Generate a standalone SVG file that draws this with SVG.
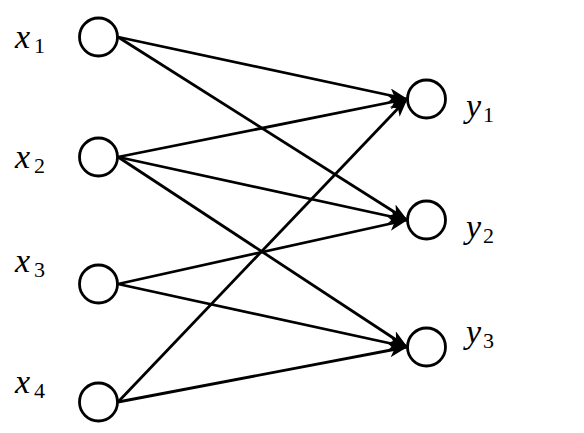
<svg xmlns="http://www.w3.org/2000/svg" width="584" height="433" viewBox="0 0 584 433">
<style>
.n{fill:#fff;stroke:#000;stroke-width:2.8}
.e{stroke:#000;stroke-width:2.8;fill:none;marker-end:url(#ah)}
.l{font-style:italic;font-size:34px}
.s{font-size:22px}
</style>
<defs>
<marker id="ah" viewBox="0 0 19 14" refX="18" refY="7" markerWidth="19" markerHeight="14" markerUnits="userSpaceOnUse" orient="auto">
<path d="M0,0 L19,7 L0,14 L5,7 z" fill="#000"/>
</marker>
</defs>
<rect width="584" height="433" fill="#fff"/>
<g id="edges">
<line class="e" x1="118" y1="37" x2="407" y2="99"/>
<line class="e" x1="118" y1="37" x2="407" y2="220"/>
<line class="e" x1="118" y1="157" x2="407" y2="99"/>
<line class="e" x1="118" y1="157" x2="407" y2="220"/>
<line class="e" x1="118" y1="157" x2="407" y2="347"/>
<line class="e" x1="118" y1="284" x2="407" y2="220"/>
<line class="e" x1="118" y1="284" x2="407" y2="347"/>
<line class="e" x1="118" y1="402" x2="407" y2="99"/>
<line class="e" x1="118" y1="402" x2="407" y2="347"/>
</g>
<g font-family="Liberation Serif, serif" fill="#000">
<g id="x1"><circle class="n" cx="98.5" cy="37" r="19"/><text class="l" x="15" y="48">x</text><text class="s" x="34" y="53">1</text></g>
<g id="x2"><circle class="n" cx="98.5" cy="157" r="19"/><text class="l" x="15" y="168">x</text><text class="s" x="34" y="173">2</text></g>
<g id="x3"><circle class="n" cx="98.5" cy="284" r="19"/><text class="l" x="15" y="272">x</text><text class="s" x="34" y="277">3</text></g>
<g id="x4"><circle class="n" cx="98.5" cy="402" r="19"/><text class="l" x="15" y="393">x</text><text class="s" x="34" y="398">4</text></g>
<g id="y1"><circle class="n" cx="426.5" cy="99" r="19"/><text class="l" x="466" y="117">y</text><text class="s" x="483" y="122">1</text></g>
<g id="y2"><circle class="n" cx="426.5" cy="220" r="19"/><text class="l" x="466" y="238">y</text><text class="s" x="483" y="243">2</text></g>
<g id="y3"><circle class="n" cx="426.5" cy="347" r="19"/><text class="l" x="466" y="343">y</text><text class="s" x="483" y="348">3</text></g>
</g>
</svg>
